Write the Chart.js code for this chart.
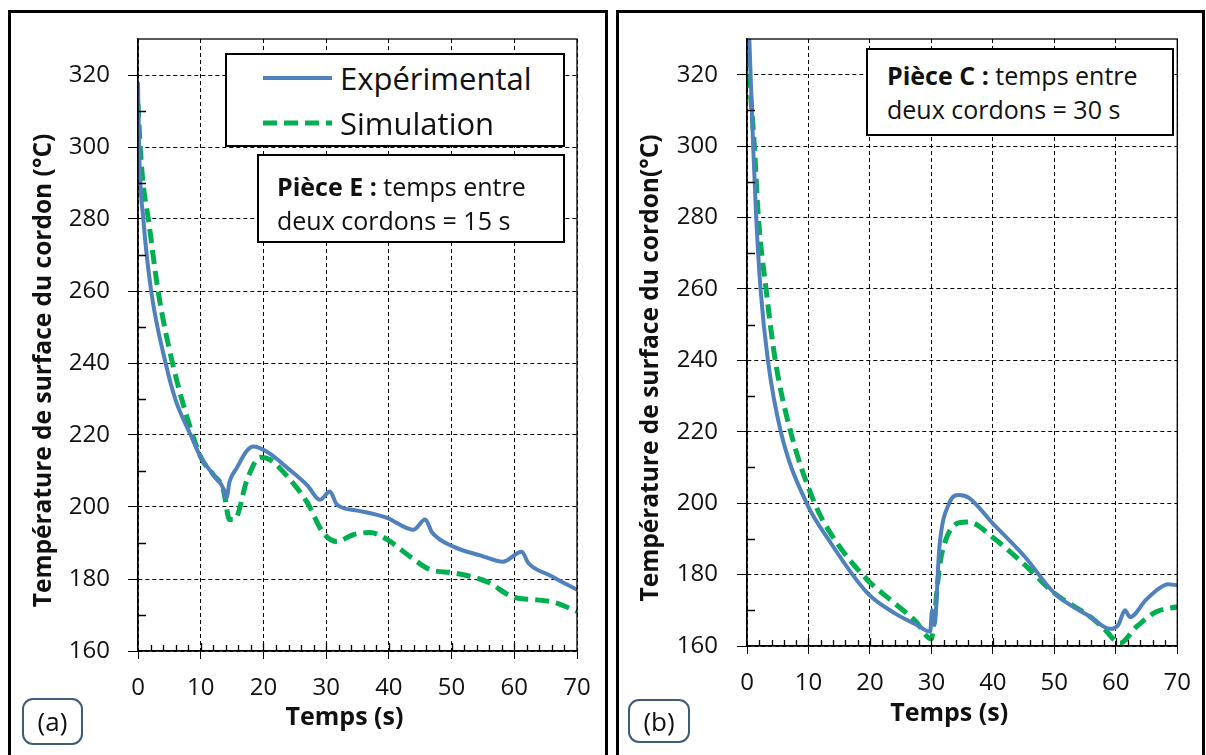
<!DOCTYPE html>
<html>
<head>
<meta charset="utf-8">
<script src="https://cdn.jsdelivr.net/npm/chart.js@4.4.1/dist/chart.umd.min.js"></script>
<style>
  body { margin: 0; width: 1206px; height: 755px; background: #fff; position: relative; overflow: hidden; font-family: 'Open Sans', sans-serif; color: #111; }
  .frame { position: absolute; border: 3px solid #000; box-sizing: border-box; }
  canvas { position: absolute; top: 0; }
  .note { position: absolute; border: 2px solid #000; background: #fff; box-sizing: border-box; font-size: 25px; line-height: 34px; white-space: nowrap; }
  .legend { position: absolute; border: 2px solid #000; background: #fff; box-sizing: border-box; font-size: 31px; }
  .legend .row { position: absolute; left: 36px; display: flex; align-items: center; height: 40px; }
  .legend svg { margin-right: 8px; }
  .tag { position: absolute; border: 2px solid #3f5b7a; border-radius: 11px; box-sizing: border-box; font-size: 26px; text-align: center; }
</style>
</head>
<body>
<div class="frame" style="left:8px; top:10px; width:600px; height:760px;"></div>
<div class="frame" style="left:616px; top:10px; width:589px; height:760px;"></div>

<canvas id="chartA" width="606" height="755" style="left:0;"></canvas>
<canvas id="chartB" width="596" height="755" style="left:610px;"></canvas>

<div class="legend" id="legendA" style="left:225px; top:53px; width:340px; height:94px;"></div>
<div class="note" style="left:257px; top:154px; width:308px; height:89px; padding:13px 0 0 18px;"><b>Pièce E :</b> temps entre<br>deux cordons = 15 s</div>
<div class="note" style="left:866px; top:48px; width:308px; height:88px; padding:8px 0 0 19px;"><b>Pièce C :</b> temps entre<br>deux cordons = 30 s</div>

<div class="tag" style="left:22px; top:698px; width:61px; height:47px; line-height:43px;">(a)</div>
<div class="tag" style="left:628px; top:699px; width:62px; height:44px; line-height:40px;">(b)</div>

<script>
const xTicks = [0, 10, 20, 30, 40, 50, 60, 70];
const yTicks = [160, 180, 200, 220, 240, 260, 280, 300, 320];
const seriesLabels = ['Expérimental', 'Simulation'];
const seriesColors = ['#4f81bd', '#00b050'];

// (a) Pièce E, 15 s between beads
const timeExpA = [0, 0.2, 0.85, 2.1, 4.4, 6, 8.4, 10, 12, 13.5, 14.1, 14.6, 15.8, 17.3, 18.4, 20.5, 24, 27, 29, 30.6, 31.7, 35, 39.7, 43.9, 45.8, 46.9, 50.3, 54.7, 58.2, 61.2, 62.2, 65.7, 70];
const tempExpA = [318, 298, 280, 260, 240, 229.7, 220, 213.8, 209, 205.5, 202.5, 207, 211, 215.5, 216.8, 215.4, 210.6, 206, 202, 204.3, 200.7, 199, 197, 193.7, 196.5, 192.9, 189, 186.5, 184.8, 187.6, 184.5, 181, 177];
const timeSimA = [0, 0.35, 0.8, 1.65, 3.2, 5.5, 8.7, 10.2, 12, 13.6, 14.6, 15.4, 17.4, 19.5, 21, 23.8, 27, 29.5, 31.7, 34.3, 37, 39.7, 43.4, 46.6, 50.3, 55.7, 59.8, 63.6, 66.2, 70];
const tempSimA = [312, 300, 290, 280, 260, 240, 220, 213.2, 209, 204.8, 196.5, 196.5, 207.6, 213.8, 213.2, 208.5, 201.2, 192.9, 190.4, 192.3, 192.9, 191, 186.2, 182.6, 181.7, 179.2, 175, 174.2, 173.6, 171];

// (b) Pièce C, 30 s between beads
const timeExpB = [0.3, 1, 1.5, 2.2, 3.4, 5.5, 9.7, 13.3, 19.6, 24, 27.5, 29.8, 30.1, 30.5, 31.3, 32.9, 34.5, 36.1, 39.9, 45.2, 50, 55.9, 59.1, 60.4, 61.5, 62.3, 64.9, 67.1, 68.5, 70];
const tempExpB = [334, 300, 280, 260, 240, 220, 200, 189.7, 174.8, 169.2, 166, 164, 170, 166, 187.7, 200, 202.3, 201.5, 194.5, 185, 174.8, 168.1, 164.8, 165.9, 170, 168.1, 172.9, 176.2, 177.3, 177];
const timeSimB = [0, 0.6, 1.2, 1.85, 3.1, 4.6, 7.1, 11, 13.8, 19.6, 24, 27.4, 30, 30.3, 31.3, 32.3, 34.5, 36.1, 39.9, 45.2, 50, 55.9, 58, 60.7, 63.3, 66.5, 70];
const tempSimB = [326, 314, 300, 280, 260, 240, 220, 200, 191, 178.5, 172, 167, 162, 165, 182, 189.6, 194.5, 194.7, 190.5, 182.7, 174.8, 168.1, 165, 160.8, 165.3, 169.5, 171];

const xMinorStep = 2, yMinorStep = 10;
const font = "'Open Sans', sans-serif";

function pts(t, v) {
  return t.map((x, i) => ({ x: x, y: v[i] }));
}

// frame around the plot area + Excel style minor tick marks
const minorTicks = {
  id: 'minorTicks',
  afterDraw(chart) {
    const { ctx, chartArea: a, scales: { x, y } } = chart;
    ctx.save();
    ctx.strokeStyle = '#000';
    ctx.lineWidth = 1.3;
    ctx.strokeRect(a.left, a.top, a.right - a.left, a.bottom - a.top);
    ctx.beginPath();
    for (let v = x.min + xMinorStep; v < x.max; v += xMinorStep) {
      const px = Math.round(x.getPixelForValue(v)) + 0.5;
      ctx.moveTo(px, a.bottom);
      ctx.lineTo(px, a.bottom - (v % 10 === 0 ? 8 : 6));
    }
    for (let v = y.min + yMinorStep; v < y.max; v += 2 * yMinorStep) {
      const py = Math.round(y.getPixelForValue(v)) + 0.5;
      ctx.moveTo(a.left, py);
      ctx.lineTo(a.left + 8, py);
    }
    ctx.stroke();
    ctx.restore();
  }
};

function buildChart(id, o) {
  return new Chart(document.getElementById(id), {
    type: 'line',
    data: {
      datasets: [{
        label: seriesLabels[0],
        data: pts(o.tExp, o.vExp),
        borderColor: seriesColors[0],
        borderWidth: 4,
        pointRadius: 0,
        cubicInterpolationMode: 'monotone'
      }, {
        label: seriesLabels[1],
        data: pts(o.tSim, o.vSim),
        borderColor: seriesColors[1],
        borderWidth: 5,
        borderDash: [14, 7],
        pointRadius: 0,
        cubicInterpolationMode: 'monotone'
      }]
    },
    options: {
      responsive: false,
      animation: false,
      events: [],
      layout: { padding: { top: 39, right: o.padRight, left: 0, bottom: 0 } },
      plugins: { legend: { display: false }, tooltip: { enabled: false } },
      scales: {
        x: {
          type: 'linear', min: 0, max: 70,
          afterBuildTicks: s => { s.ticks = xTicks.map(v => ({ value: v })); },
          afterFit: s => { s.height = o.xAxisH; },
          grid: { color: '#000', lineWidth: 1, tickLength: 8, tickColor: '#000' },
          border: { display: true, color: '#000', width: 1.3, dash: [4, 3] },
          ticks: { color: '#111', padding: 15, maxRotation: 0, font: { family: font, size: 24 } },
          // trailing spaces nudge the centred title a little to the left, as in the source figure
          title: { display: true, text: 'Temps (s)    ', color: '#111', padding: { top: 0, bottom: o.xTitlePad }, font: { family: font, size: 25, weight: 'bold' } }
        },
        y: {
          min: 160, max: 330,
          afterBuildTicks: s => { s.ticks = yTicks.map(v => ({ value: v })); },
          afterFit: s => { s.width = o.yAxisW; },
          grid: { color: '#000', lineWidth: 1, tickLength: 10, tickColor: '#000' },
          border: { display: true, color: '#000', width: 1.3, dash: [4, 3] },
          ticks: { color: '#111', padding: o.yTickPad, font: { family: font, size: 24 } },
          title: { display: true, text: o.yTitle + '        ', color: '#111', padding: { top: o.yTitlePad, bottom: 0 }, font: { family: font, size: 24.5, weight: 'bold' } }
        }
      }
    },
    plugins: [minorTicks]
  });
}

function buildLegend(chart, el) {
  chart.data.datasets.forEach((ds, i) => {
    const row = document.createElement('div');
    row.className = 'row';
    row.style.top = (i === 0 ? 3 : 48) + 'px';
    const dash = ds.borderDash ? ds.borderDash.join(' ') : 'none';
    row.innerHTML = `<svg width="69" height="10"><line x1="0" y1="5" x2="69" y2="5" stroke="${ds.borderColor}" stroke-width="${ds.borderWidth}" stroke-dasharray="${dash}"/></svg><span>${ds.label}</span>`;
    el.appendChild(row);
  });
}

const chartA = buildChart('chartA', {
  tExp: timeExpA, vExp: tempExpA, tSim: timeSimA, vSim: tempSimA,
  yTitle: 'Température de surface du cordon (°C)',
  yAxisW: 138, padRight: 29, xAxisH: 104, yTickPad: 18, yTitlePad: 29, xTitlePad: 22
});
const chartB = buildChart('chartB', {
  tExp: timeExpB, vExp: tempExpB, tSim: timeSimB, vSim: tempSimB,
  yTitle: 'Température de surface du cordon(°C)',
  yAxisW: 137, padRight: 21, xAxisH: 109, yTickPad: 19, yTitlePad: 26, xTitlePad: 26
});
buildLegend(chartA, document.getElementById('legendA'));
</script>
</body>
</html>
